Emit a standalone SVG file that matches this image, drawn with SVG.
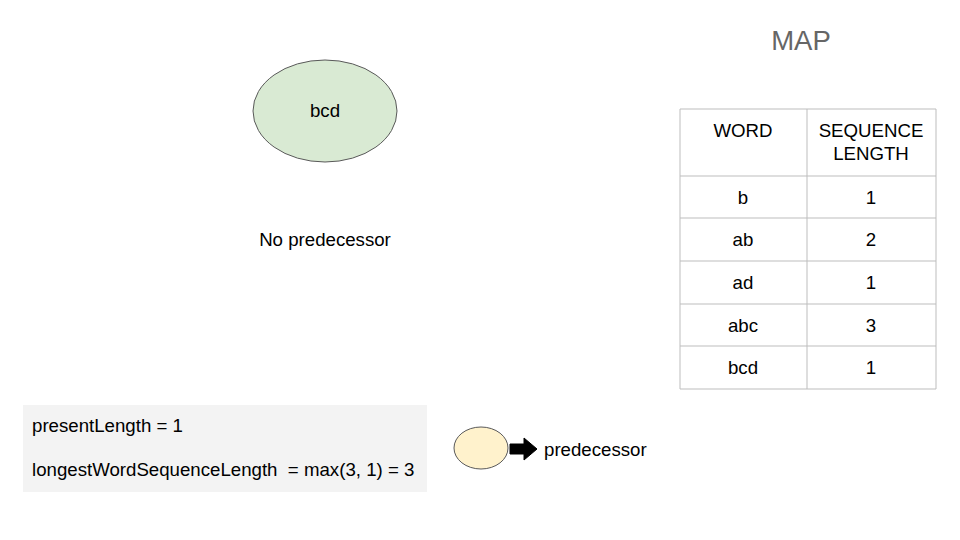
<svg xmlns="http://www.w3.org/2000/svg" width="960" height="540" viewBox="0 0 960 540">
<style>
text{font-family:"Liberation Sans",Arial,sans-serif;font-size:18.67px;fill:#000;white-space:pre}
.c{text-anchor:middle}
.grid line{stroke:#bdbdbd;stroke-width:1}
</style>
<rect width="960" height="540" fill="#fff"/>
<text x="801" y="50" class="c" style="font-size:27.5px;fill:#666">MAP</text>
<g id="node-bcd">
<ellipse cx="325" cy="111" rx="72" ry="51" fill="#d9ead3" stroke="#595959" stroke-width="1"/>
<text x="325" y="117" class="c">bcd</text>
</g>
<text x="325" y="246" class="c">No predecessor</text>
<g id="map-table" class="grid">
<line x1="680" y1="109" x2="936" y2="109"/>
<line x1="680" y1="176" x2="936" y2="176"/>
<line x1="680" y1="218" x2="936" y2="218"/>
<line x1="680" y1="261" x2="936" y2="261"/>
<line x1="680" y1="304" x2="936" y2="304"/>
<line x1="680" y1="346" x2="936" y2="346"/>
<line x1="680" y1="389" x2="936" y2="389"/>
<line x1="680" y1="109" x2="680" y2="389"/>
<line x1="807" y1="109" x2="807" y2="389"/>
<line x1="936" y1="109" x2="936" y2="389"/>
<text x="743" y="137" class="c">WORD</text>
<text x="871" y="137" class="c">SEQUENCE</text>
<text x="871" y="160" class="c">LENGTH</text>
<text x="743" y="204" class="c">b</text><text x="871" y="204" class="c">1</text>
<text x="743" y="246" class="c">ab</text><text x="871" y="246" class="c">2</text>
<text x="743" y="289" class="c">ad</text><text x="871" y="289" class="c">1</text>
<text x="743" y="332" class="c">abc</text><text x="871" y="332" class="c">3</text>
<text x="743" y="374" class="c">bcd</text><text x="871" y="374" class="c">1</text>
</g>
<g id="info-box">
<rect x="23" y="405" width="404" height="87" fill="#f3f3f3"/>
<text x="32" y="432">presentLength = 1</text>
<text x="32" y="476" xml:space="preserve">longestWordSequenceLength  = max(3, 1) = 3</text>
</g>
<g id="legend">
<ellipse cx="481" cy="448" rx="27" ry="21" fill="#fff2cc" stroke="#595959" stroke-width="1"/>
<path d="M510,444 L524,444 L524,438 L537,449 L524,460 L524,454 L510,454 Z" fill="#000" stroke="#000" stroke-width="1"/>
<text x="544" y="456">predecessor</text>
</g>
<g id="connectors"></g>
</svg>
